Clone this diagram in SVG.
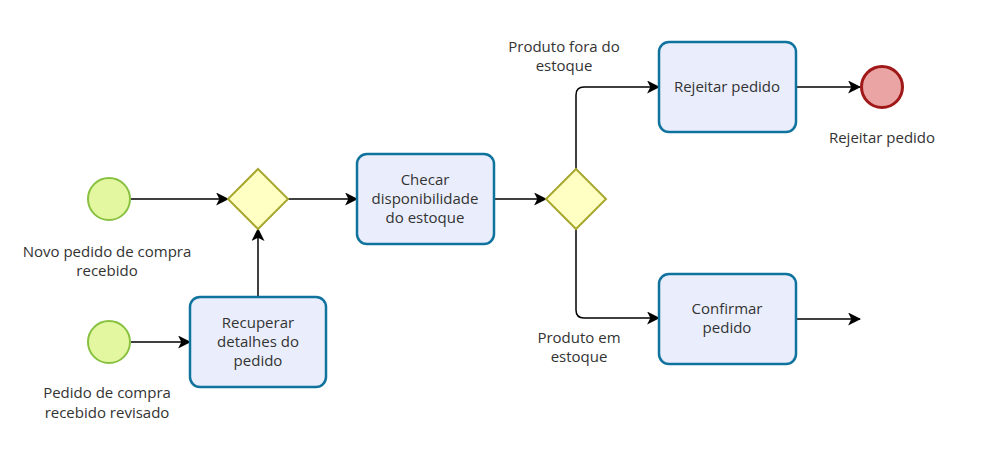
<svg xmlns="http://www.w3.org/2000/svg" width="989" height="459" viewBox="0 0 989 459">
<style>
.t{font-family:"Open Sans","Noto Sans","Liberation Sans",sans-serif;font-size:15px;fill:#333;text-anchor:middle}
.task{fill:#eaeefc;stroke:#10739e;stroke-width:2.5}
.gw{fill:#ffffc4;stroke:#a8a831;stroke-width:2}
.start{fill:#e3f7a1;stroke:#88c13f;stroke-width:2}
.end{fill:#eaa4a4;stroke:#a11818;stroke-width:3}
.c{fill:none;stroke:#000;stroke-width:1.5;marker-end:url(#ah)}
</style>
<defs>
<marker id="ah" viewBox="0 0 12 12" refX="11" refY="6" markerWidth="13" markerHeight="13" markerUnits="userSpaceOnUse" orient="auto">
<path d="M0,0 L12,6 L0,12 L3,6 Z" fill="#000"/>
</marker>
</defs>
<rect width="989" height="459" fill="#fff"/>
<g id="connectors">
<path class="c" d="M131,199 L228,199"/>
<path class="c" d="M131,342 L190,342"/>
<path class="c" d="M258,297 L258,229"/>
<path class="c" d="M288,199 L357,199"/>
<path class="c" d="M494,199 L546,199"/>
<path class="c" d="M576,169 L576,95 Q576,87 584,87 L659,87"/>
<path class="c" d="M576,229 L576,310 Q576,318 584,318 L659,318"/>
<path class="c" d="M796,87 L860,87"/>
<path class="c" d="M796,319 L860,319"/>
</g>
<g id="start1">
<circle class="start" cx="109" cy="199" r="21"/>
<text class="t" x="107" y="257">Novo pedido de compra</text>
<text class="t" x="107" y="276">recebido</text>
</g>
<g id="start2">
<circle class="start" cx="109" cy="342" r="21"/>
<text class="t" x="107" y="398">Pedido de compra</text>
<text class="t" x="107" y="418">recebido revisado</text>
</g>
<g id="gateway1">
<path class="gw" d="M258,169 L288,199 L258,229 L228,199 Z"/>
</g>
<g id="task-recuperar">
<rect class="task" x="190" y="297" width="136" height="90" rx="10"/>
<text class="t" x="258" y="328">Recuperar</text>
<text class="t" x="258" y="347">detalhes do</text>
<text class="t" x="258" y="366">pedido</text>
</g>
<g id="task-checar">
<rect class="task" x="357" y="154" width="137" height="90" rx="10"/>
<text class="t" x="425" y="185">Checar</text>
<text class="t" x="425" y="204">disponibilidade</text>
<text class="t" x="425" y="223">do estoque</text>
</g>
<g id="gateway2">
<path class="gw" d="M576,169 L606,199 L576,229 L546,199 Z"/>
<text class="t" x="564" y="52">Produto fora do</text>
<text class="t" x="564" y="71">estoque</text>
<text class="t" x="579" y="343">Produto em</text>
<text class="t" x="579" y="362">estoque</text>
</g>
<g id="task-rejeitar">
<rect class="task" x="659" y="42" width="137" height="90" rx="10"/>
<text class="t" x="727" y="92">Rejeitar pedido</text>
</g>
<g id="end-rejeitar">
<circle class="end" cx="882" cy="87" r="20.5"/>
<text class="t" x="882" y="143">Rejeitar pedido</text>
</g>
<g id="task-confirmar">
<rect class="task" x="659" y="274" width="137" height="90" rx="10"/>
<text class="t" x="727" y="314">Confirmar</text>
<text class="t" x="727" y="333">pedido</text>
</g>
</svg>
